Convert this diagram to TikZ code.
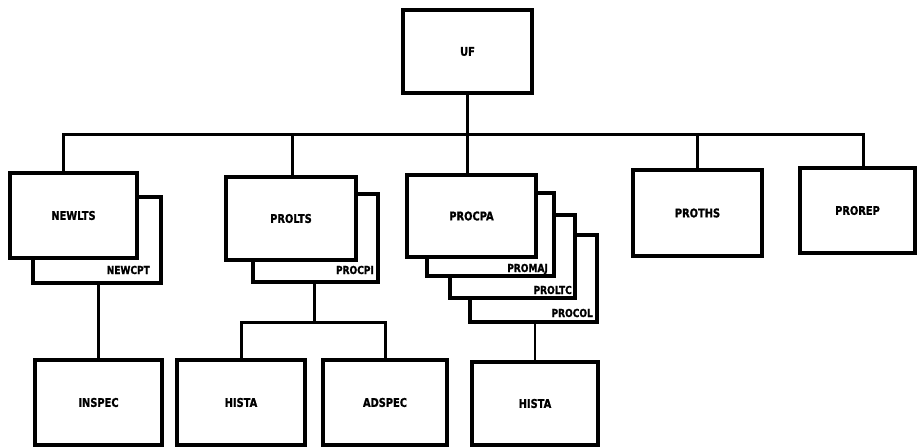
\documentclass[tikz,border=0pt]{standalone}
\usepackage{fontspec}
\newfontfamily\chartfont{DejaVu Sans}[FakeStretch=0.82, BoldFeatures={FakeBold=1.2}]
% box given by name, left, top, right, bottom, text
\newcommand\chartbox[6]{%
  \node[box, minimum width={#4-#2}, minimum height={#5-#3}] (#1)
    at ({(#2+#4)/2},{(#3+#5)/2}) {#6};}
\begin{document}
\begin{tikzpicture}[x=1pt,y=-1pt,
  box/.style={draw, line width=3.5pt, fill=white, inner sep=0pt, outer sep=0pt,
    font=\chartfont\bfseries\fontsize{12}{12}\selectfont},
  tag/.style={anchor=base east, inner sep=0pt,
    font=\chartfont\bfseries\fontsize{11}{11}\selectfont},
  link/.style={line width=3pt},
  thinlink/.style={line width=2.5pt}]
\useasboundingbox (0,0) rectangle (918,447);

% top
\chartbox{uf}{403}{10}{532}{93}{UF}

% stacked boxes, back ones first
\chartbox{newcpt}{33}{197}{161}{283}{}
\chartbox{newlts}{10}{173}{137}{258}{NEWLTS}

\chartbox{procpi}{253}{194}{378}{282}{}
\chartbox{prolts}{226}{177}{356}{260}{PROLTS}

\chartbox{procol}{470}{235}{597}{322}{}
\chartbox{proltc}{450}{215}{575}{298}{}
\chartbox{promaj}{427}{193}{554}{276}{}
\chartbox{procpa}{407}{175}{536}{257}{PROCPA}

\chartbox{proths}{633}{170}{762}{256}{PROTHS}
\chartbox{prorep}{800}{168}{915}{253}{PROREP}

% bottom row
\chartbox{inspec}{35}{360}{162}{445}{INSPEC}
\chartbox{hista}{177}{360}{305}{445}{HISTA}
\chartbox{adspec}{323}{360}{447}{445}{ADSPEC}
\chartbox{histb}{472}{362}{598}{445}{HISTA}

% names of the stacked boxes
\node[tag] (newcpttag) at ([shift={(-11,-9)}]newcpt.south east) {NEWCPT};
\node[tag] (procpitag) at ([shift={(-4,-8)}]procpi.south east) {PROCPI};
\node[tag] (promajtag) at ([shift={(-6,-4)}]promaj.south east) {PROMAJ};
\node[tag] (proltctag) at ([shift={(-3,-4)}]proltc.south east) {PROLTC};
\node[tag] (procoltag) at ([shift={(-4,-5)}]procol.south east) {PROCOL};

% main bus
\coordinate (busL) at (63,134);
\coordinate (busR) at (863,134);
\coordinate (b2) at (292,134);
\coordinate (b5) at (697,134);
\draw[link] (newlts.north -| busL) -- (busL) -- (busR) -- (prorep.north -| busR);
\draw[link] (uf.south) -- (uf.south |- procpa.north);
\draw[link] (b2) -- (prolts.north -| b2);
\draw[link] (b5) -- (proths.north -| b5);

% lower links
\coordinate (split) at (314,322);
\draw[thinlink] (newcpt.south -| inspec.north) -- (inspec.north);
\draw[link] (procpi.south -| split) -- (split);
\draw[link] (hista.north) |- (split) -| (adspec.north);
\draw[thinlink] (procol.south -| histb.north) -- (histb.north);
\end{tikzpicture}
\end{document}
